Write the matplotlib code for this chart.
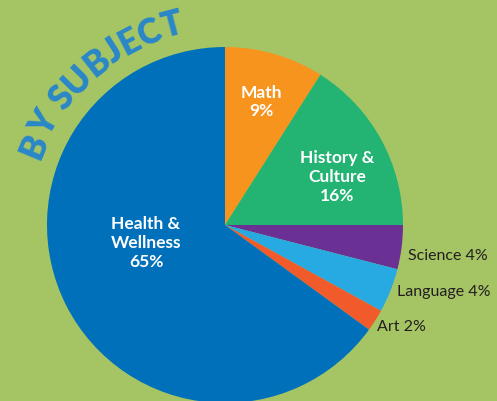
import numpy as np
import matplotlib
matplotlib.use("Agg")
import matplotlib.pyplot as plt
from matplotlib.font_manager import FontProperties

subjects = ["Math", "History &\nCulture", "Science", "Language", "Art", "Health &\nWellness"]
shares = [9, 16, 4, 4, 2, 65]
colors = ["#f7941e", "#23b373", "#6a3093", "#27aae1", "#f15a2b", "#0070bb"]
title = "BY SUBJECT"

W, H = 497, 401
BG = "#a5c464"
fig = plt.figure(figsize=(W / 100, H / 100), dpi=100, facecolor=BG)
ax = fig.add_axes([0, 0, 1, 1])
ax.set_facecolor(BG)

cx, cy, R = 225, H - 225, 178
wedges, _ = ax.pie(shares, colors=colors, startangle=90, counterclock=False,
                   center=(cx, cy), radius=R, wedgeprops=dict(linewidth=0))
ax.set_xlim(0, W)
ax.set_ylim(0, H)
ax.set_aspect("auto")
ax.axis("off")

# inside labels (pixel positions, y from top)
inside = {0: (261, 102), 1: (337, 177), 5: (146, 243)}
for i, (px, py) in inside.items():
    ax.text(px, H - py, f"{subjects[i]}\n{shares[i]}%", color="white",
            fontsize=12.5, fontweight="bold", family="Lato", ha="center",
            va="center", linespacing=1.2)

# outside labels
outside = {2: (408, 256), 3: (397, 292), 4: (377, 327)}
for i, (px, py) in outside.items():
    ax.text(px, H - py, f"{subjects[i]} {shares[i]}%", color="#231f20",
            fontsize=11.5, family="Lato", ha="left", va="center")

# curved title
fp = FontProperties(family="Lato", weight="heavy", size=25)
renderer = fig.canvas.get_renderer()
def width(s):
    if not s:
        return 0.0
    w, h, d = renderer.get_text_width_height_descent(s.replace(" ", "\u00a0"), fp, ismath=False)
    return w
spacing = 0.0
Rb = 196
theta0 = np.deg2rad(161)
for k, ch in enumerate(title):
    wprev = width(title[:k]) + spacing * k
    wcur = width(title[:k + 1]) + spacing * k
    s = (wprev + wcur) / 2
    th = theta0 - s / Rb
    x = cx + Rb * np.cos(th)
    y = cy + Rb * np.sin(th)
    if ch != " ":
        ax.text(x, y, ch, fontproperties=fp, color="#2a87c8", ha="center",
                va="baseline", rotation=np.rad2deg(th) - 90, rotation_mode="anchor")

fig.savefig("out.png", dpi=100, facecolor=BG)
